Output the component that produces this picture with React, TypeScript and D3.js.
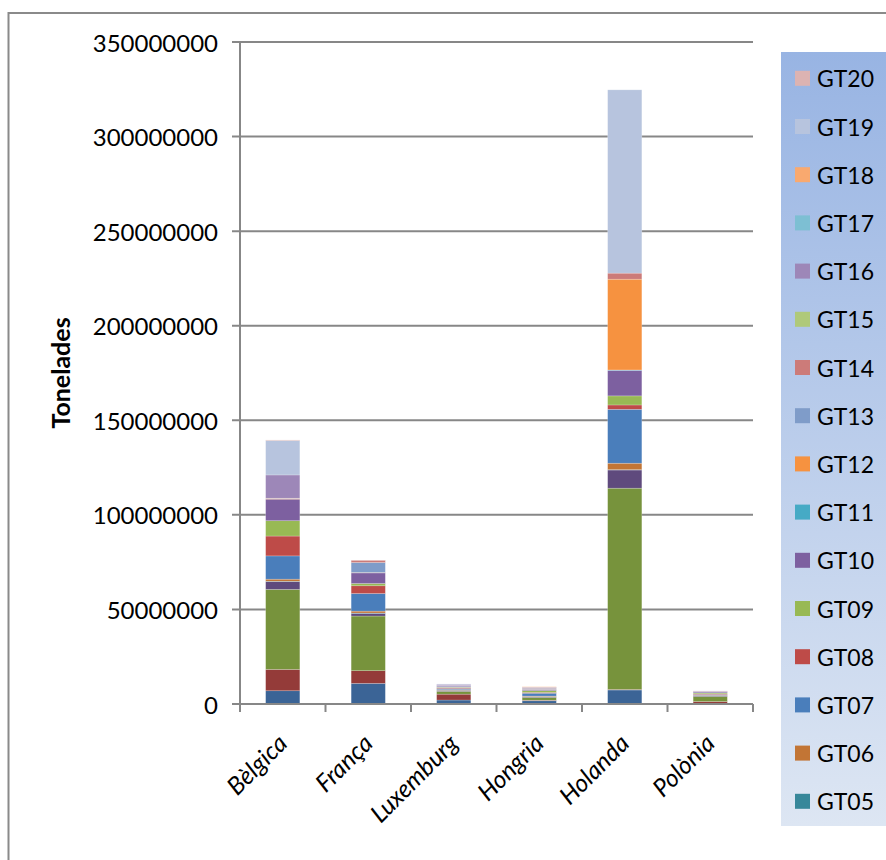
import React from "react";
import * as d3 from "d3";

// Countries on the category axis
const countries = ["Bèlgica", "França", "Luxemburg", "Hongria", "Holanda", "Polònia"];

// Tonnes per goods group (GT01..GT20), one value per country, in millions
const gt01 = [7.0, 10.9, 2.1, 1.7, 7.4, 0.2];
const gt02 = [11.3, 6.7, 3.1, 0.3, 0.3, 1.1];
const gt03 = [42.3, 28.9, 1.5, 1.5, 106.4, 2.7];
const gt04 = [4.1, 1.4, 0.5, 0.4, 9.6, 0.4];
const gt05 = [0.2, 0.2, 0.1, 0.1, 0.2, 0.0];
const gt06 = [1.1, 1.0, 0.3, 0.2, 3.4, 0.2];
const gt07 = [12.3, 9.3, 0.6, 1.5, 28.5, 0.4];
const gt08 = [10.5, 4.1, 0.4, 0.4, 2.3, 0.3];
const gt09 = [8.1, 1.2, 0.3, 1.0, 4.8, 0.5];
const gt10 = [11.4, 5.6, 0.5, 0.6, 13.5, 0.5];
const gt11 = [0.0, 0.0, 0.0, 0.0, 0.2, 0.0];
const gt12 = [0.3, 0.2, 0.0, 0.1, 48.0, 0.0];
const gt13 = [0.1, 5.3, 0.3, 0.5, 0.0, 0.2];
const gt14 = [0.1, 1.2, 0.1, 0.3, 3.2, 0.2];
const gt15 = [0.0, 0.0, 0.0, 0.0, 0.0, 0.0];
const gt16 = [12.3, 0.0, 0.6, 0.3, 0.0, 0.2];
const gt17 = [0.0, 0.0, 0.0, 0.0, 0.0, 0.0];
const gt18 = [0.0, 0.0, 0.0, 0.2, 0.0, 0.0];
const gt19 = [18.2, 0.0, 0.2, 0.0, 96.9, 0.0];
const gt20 = [0.3, 0.1, 0.0, 0.0, 0.0, 0.0];

const seriesNames = [
  "GT01", "GT02", "GT03", "GT04", "GT05", "GT06", "GT07", "GT08", "GT09", "GT10",
  "GT11", "GT12", "GT13", "GT14", "GT15", "GT16", "GT17", "GT18", "GT19", "GT20",
];
const seriesValues = [
  gt01, gt02, gt03, gt04, gt05, gt06, gt07, gt08, gt09, gt10,
  gt11, gt12, gt13, gt14, gt15, gt16, gt17, gt18, gt19, gt20,
];
const seriesColors = [
  "#3b6496", "#943b39", "#77933c", "#5f4a7d", "#37879a", "#c27535",
  "#4a7ebb", "#be4b48", "#98b954", "#7d60a0", "#46aac5", "#f69240",
  "#7f9cc9", "#cc7b79", "#afc97a", "#9d87b8", "#7dbfd3", "#f9a96f",
  "#b7c4de", "#dcb3b2",
];

// Legend shows GT20 down to GT05
const legendNames = ["GT20", "GT19", "GT18", "GT17", "GT16", "GT15", "GT14", "GT13",
  "GT12", "GT11", "GT10", "GT09", "GT08", "GT07", "GT06", "GT05"];

const yTicks = [0, 50000000, 100000000, 150000000, 200000000, 250000000, 300000000, 350000000];

const FONT = "Lato, 'Open Sans', sans-serif";

export default function App() {
  const W = 886, H = 860;
  const left = 240, right = 753, top = 42, bottom = 704;

  const x = d3.scaleBand<string>().domain(countries).range([left, right])
    .paddingInner(0.6).paddingOuter(0.3);
  const y = d3.scaleLinear().domain([0, 350000000]).range([bottom, top]);

  const table = countries.map((c, i) => {
    const row: Record<string, any> = { country: c };
    seriesNames.forEach((s, k) => { row[s] = seriesValues[k][i] * 1e6; });
    return row;
  });
  const stacked = d3.stack<any>().keys(seriesNames)(table);

  const step = x.step();
  const boundaries = d3.range(countries.length + 1).map((i) => left + i * step);

  return (
    <svg width={W} height={H} style={{ position: "absolute", left: 0, top: 0, background: "#fff" }}
      fontFamily={FONT}>
      <defs>
        <linearGradient id="legendBg" x1="0" y1="0" x2="0" y2="1">
          <stop offset="0" stopColor="#98b4e3" />
          <stop offset="1" stopColor="#dde6f3" />
        </linearGradient>
      </defs>

      {/* chart frame */}
      <rect x={8.5} y={13} width={W + 20} height={H + 20} fill="#fff" stroke="#8a8a8a" strokeWidth={2} />

      {/* horizontal gridlines */}
      {yTicks.map((t) => (
        <line key={"g" + t} x1={left - 8} x2={right} y1={y(t)} y2={y(t)} stroke="#878787" strokeWidth={2} />
      ))}
      {/* value axis */}
      <line x1={left} x2={left} y1={top} y2={bottom} stroke="#878787" strokeWidth={2} />
      {yTicks.map((t) => (
        <text key={"t" + t} x={218} y={y(t)} textAnchor="end" dominantBaseline="central"
          fontSize={24} fill="#000">{t}</text>
      ))}

      {/* stacked bars */}
      {stacked.map((layer, k) => (
        <g key={layer.key} fill={seriesColors[k]}>
          {layer.map((d, i) => {
            const h = y(d[0]) - y(d[1]);
            if (h <= 0) return null;
            return (
              <rect key={i} x={x(countries[i])} y={y(d[1])} width={x.bandwidth()} height={h}
                stroke="#ffffff" strokeOpacity={0.35} strokeWidth={0.6} />
            );
          })}
        </g>
      ))}

      {/* category axis */}
      <line x1={left} x2={right} y1={bottom} y2={bottom} stroke="#878787" strokeWidth={2} />
      {boundaries.map((bx, i) => (
        <line key={"b" + i} x1={bx} x2={bx} y1={bottom} y2={bottom + 8} stroke="#878787" strokeWidth={2} />
      ))}
      {countries.map((c) => {
        const cx = (x(c) as number) + x.bandwidth() / 2;
        return (
          <text key={c} transform={`translate(${cx + 6},${745}) rotate(-45)`} textAnchor="end"
            fontSize={24.5} fontStyle="italic" fill="#000">{c}</text>
        );
      })}

      {/* axis title */}
      <text transform={`translate(${70},${373}) rotate(-90)`} textAnchor="middle" fontSize={25}
        fontWeight="bold" fill="#000">Tonelades</text>

      {/* legend */}
      <rect x={781} y={52} width={130} height={774} fill="url(#legendBg)" />
      {legendNames.map((n, i) => {
        const k = seriesNames.indexOf(n);
        const cy = 78.3 + i * 48.2;
        return (
          <g key={n}>
            <rect x={795} y={cy - 7.5} width={15} height={15} fill={seriesColors[k]} />
            <text x={817} y={cy} dominantBaseline="central" fontSize={23} fill="#000">{n}</text>
          </g>
        );
      })}
    </svg>
  );
}
